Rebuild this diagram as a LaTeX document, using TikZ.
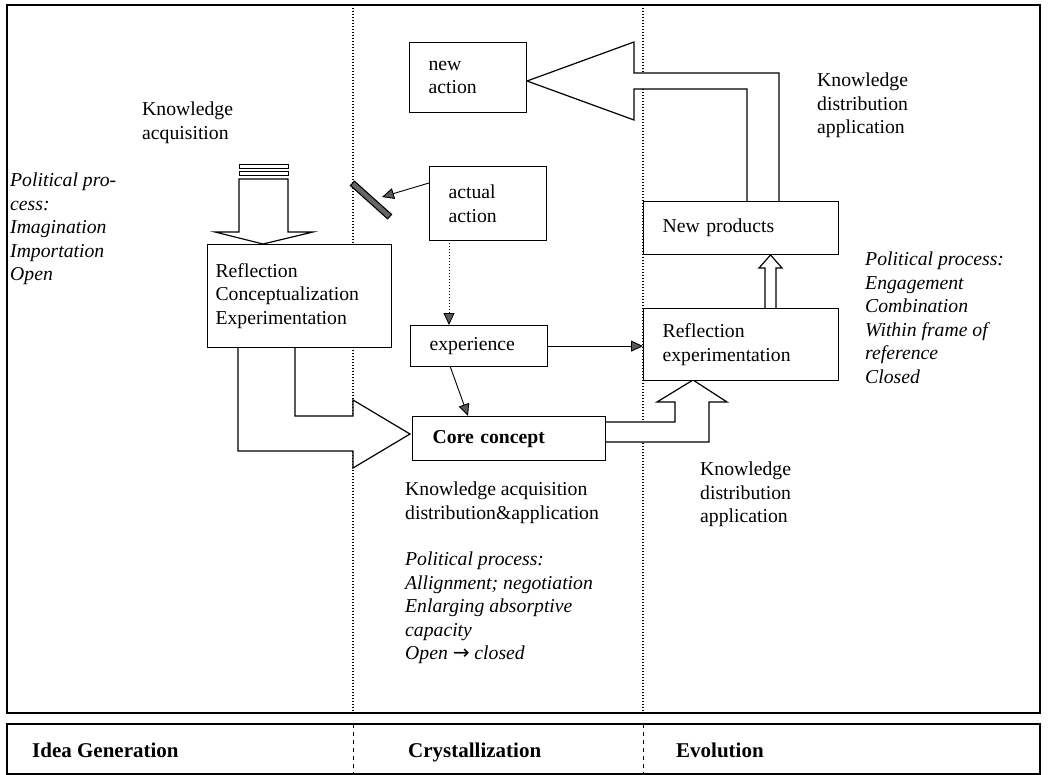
\documentclass[tikz,border=0pt]{standalone}
\usepackage{fontspec}
\setmainfont{Liberation Serif}
\usetikzlibrary{arrows.meta}
\begin{document}
\begin{tikzpicture}[x=1pt,y=-1pt,
  box/.style={draw, line width=1.2pt, fill=white, inner ysep=0pt, align=left,
    anchor=north west, font=\fontsize{19.7}{23.5}\selectfont},
  txt/.style={inner sep=0pt, align=left, anchor=north west,
    font=\fontsize{19.7}{23.5}\selectfont, execute at begin node={\rule{0pt}{16pt}}},
  itxt/.style={txt, font=\fontsize{19.7}{23.5}\selectfont\itshape},
  hollow/.style={draw, line width=1.2pt, fill=white, line join=miter},
  divider/.style={line width=1.1pt, dash pattern=on 1pt off 2pt},
  bdivider/.style={line width=0.8pt, dash pattern=on 4pt off 4pt},
  arr/.style={line width=0.9pt, -{Triangle[length=12pt,width=11pt,fill=black!65]}},
  frame/.style={draw, line width=1.2pt},
  phase/.style={inner sep=0pt, anchor=base west, font=\fontsize{21}{24}\selectfont\bfseries}
]
\useasboundingbox (0,0) rectangle (1048,775);
\fill[white] (0,0) rectangle (1048,775);

% frames
\draw[frame] (7,5) rectangle (1040,713);
\draw[frame] (7,724) rectangle (1040,774);
\coordinate (d1t) at (353,5); \coordinate (d1b) at (353,713);
\coordinate (d2t) at (643,5); \coordinate (d2b) at (643,713);
\draw[divider] (d1t) -- (d1b);
\draw[divider] (d2t) -- (d2b);
\coordinate (e1t) at (353,724); \coordinate (e1b) at (353,774);
\coordinate (e2t) at (643,724); \coordinate (e2b) at (643,774);
\draw[bdivider] (e1t) -- (e1b);
\draw[bdivider] (e2t) -- (e2b);

% phase labels
\node[phase] (ig) at (32,757) {Idea Generation};
\node[phase] (cr) at (408,757) {Crystallization};
\node[phase] (ev) at (676,757) {Evolution};

% big hollow arrows
\draw[hollow] (779,201) -- (779,73) -- (634,73) -- (634,42) -- (527,81) -- (634,120)
   -- (634,89) -- (747,89) -- (747,201);
\draw[hollow] (238,347) -- (238,451) -- (353,451) -- (353,468) -- (410,434) -- (353,400)
   -- (353,416) -- (295,416) -- (295,347);
\draw[hollow] (606,422) -- (675,422) -- (675,402) -- (657,402) -- (693,380) -- (727,402)
   -- (709,402) -- (709,442) -- (606,442);
\draw[hollow] (765,308) -- (765,268) -- (759,268) -- (770.5,255) -- (782,268) -- (776,268) -- (776,308);
% knowledge acquisition arrow
\draw[hollow] (239,179) -- (239,232) -- (215,232) -- (263,244) -- (313,232) -- (288,232) -- (288,179) -- cycle;
\draw[line width=1pt, fill=white] (239,165) rectangle (288,169);
\draw[line width=1pt, fill=white] (239,171.5) rectangle (288,176);

% boxes
\node[box, minimum width=117pt, minimum height=70pt, text width=79pt, inner xsep=19pt] (newact) at (409,42) {new\\action};
\node[box, minimum width=117pt, minimum height=74pt, text width=79pt, inner xsep=19pt] (actact) at (429,166) {actual\\action};
\node[box, minimum width=184pt, minimum height=103pt, text width=168pt, inner xsep=8pt] (refl) at (207,244) {Reflection\\Conceptualization\\Experimentation};
\node[box, minimum width=137pt, minimum height=41pt, text width=99pt, inner xsep=19pt] (exper) at (410,325) {experience};
\node[box, minimum width=193pt, minimum height=44pt, text width=153pt, inner xsep=20pt, font=\fontsize{19.7}{23.5}\selectfont\bfseries] (core) at (412,416) {Core concept};
\node[box, minimum width=195pt, minimum height=53pt, text width=157pt, inner xsep=19pt] (newprod) at (643,201) {New products};
\node[box, minimum width=195pt, minimum height=72pt, text width=157pt, inner xsep=19pt] (reflexp) at (643,308) {Reflection\\experimentation};

% blocked arrow
\coordinate (blkA) at (352,183);
\coordinate (blkB) at (390,217);
\coordinate (blkTip) at (382,197);
\draw[line width=7pt] (blkA) -- (blkB);
\draw[line width=4.5pt, black!60, shorten <=1.2pt, shorten >=1.2pt] (blkA) -- (blkB);
\draw[arr] (actact.west |- 0,183) -- (blkTip);

% small arrows
\draw[arr, dash pattern=on 1pt off 2pt] (449,240) -- (449,325);
\draw[arr] (exper.east) -- (reflexp.west |- exper.east);
\draw[arr] (450,366) -- (468,416);

% free texts
\node[txt] (ka) at (142,102) {Knowledge\\acquisition};
\node[itxt] (ppl) at (10,173) {Political pro-\\cess:\\Imagination\\Importation\\Open};
\node[txt] (kadist) at (405,482) {Knowledge acquisition\\distribution\&application};
\node[itxt] (ppm) at (405,552) {Political process:\\Allignment; negotiation\\Enlarging absorptive\\capacity\\Open {\upshape\fontspec{DejaVu Sans}\fontsize{20}{23.5}\selectfont\char"2192} closed};
\node[txt] (kdam) at (700,462) {Knowledge\\distribution\\application};
\node[txt] (kdat) at (817,73) {Knowledge\\distribution\\application};
\node[itxt] (ppr) at (865,252) {Political process:\\Engagement\\Combination\\Within frame of\\reference\\Closed};
\end{tikzpicture}
\end{document}
